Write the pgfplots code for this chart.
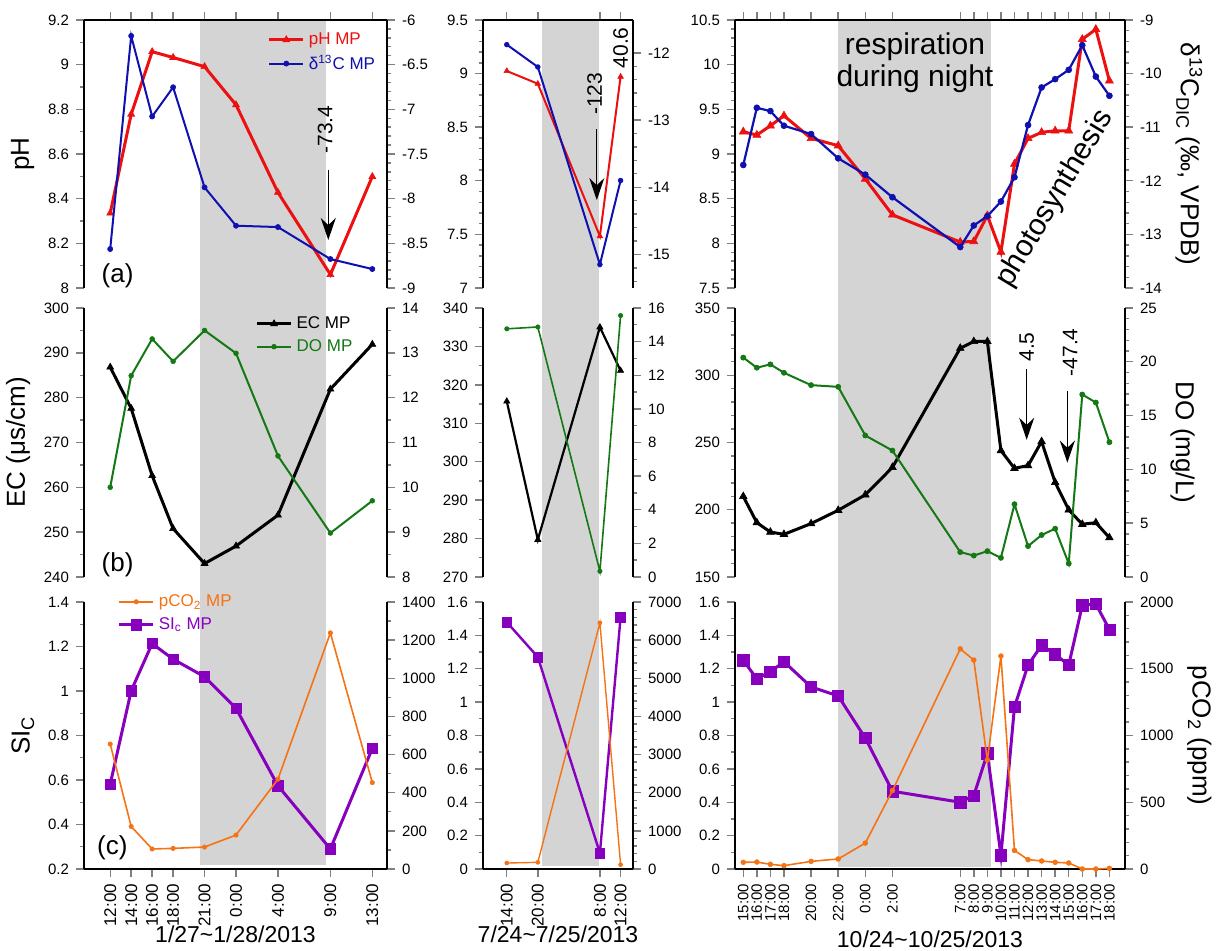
\documentclass[border=0pt]{standalone}
\usepackage{fontspec}
\setmainfont{Liberation Sans}
\usepackage{pgfplots}
\usepackage{pgfplotstable}
\pgfplotsset{compat=1.18}
\usetikzlibrary{arrows.meta,backgrounds}

\definecolor{phred}{RGB}{236,16,16}
\definecolor{dblue}{RGB}{16,16,176}
\definecolor{dogreen}{RGB}{20,120,20}
\definecolor{coorange}{RGB}{245,115,20}
\definecolor{sipurple}{RGB}{135,0,190}
\definecolor{night}{RGB}{212,212,212}

% h = hours after first sample of each campaign
\pgfplotstableread{
h pH dC EC DO SI CO
0 8.335 -8.564 286.8 10.00 0.581 655
2 8.778 -6.178 277.6 12.49 1.001 223
4 9.058 -7.080 262.6 13.31 1.213 105
6 9.032 -6.753 250.8 12.81 1.143 108
9 8.991 -7.874 243.0 13.50 1.064 115
12 8.820 -8.303 246.9 12.99 0.922 178
16 8.428 -8.318 253.8 10.70 0.574 471
21 8.060 -8.676 281.9 8.98 0.290 1238
25 8.499 -8.788 291.9 9.70 0.742 453
}\tabL

\pgfplotstableread{
h pH dC EC DO SI CO
0 9.024 -11.877 315.7 14.76 1.479 156
6 8.905 -12.210 279.7 14.87 1.270 174
18 7.483 -15.150 335.0 0.34 0.095 6453
22 8.971 -13.900 323.7 15.55 1.509 113
}\tabM

\pgfplotstableread{
h pH dC EC DO SI CO
0 9.249 -11.705 209.9 20.39 1.250 50
1 9.212 -10.638 190.4 19.45 1.140 52
2 9.316 -10.700 183.4 19.76 1.182 35
3 9.428 -10.973 181.7 18.98 1.242 25
5 9.175 -11.128 189.7 17.83 1.091 57
7 9.093 -11.581 199.6 17.67 1.037 75
9 8.721 -11.885 211.1 13.15 0.784 194
11 8.319 -12.307 231.5 11.75 0.466 587
16 8.014 -13.237 320.1 2.31 0.400 1649
17 8.021 -12.834 325.1 1.99 0.440 1565
18 8.311 -12.660 325.1 2.40 0.693 816
19 7.902 -12.387 244.0 1.78 0.082 1595
20 8.888 -11.934 230.8 6.76 0.971 139
21 9.175 -10.960 232.8 2.87 1.222 70
22 9.242 -10.259 250.7 3.90 1.341 60
23 9.260 -10.104 220.3 4.49 1.286 50
24 9.260 -9.930 199.9 1.25 1.222 45
25 10.284 -9.471 189.2 16.96 1.580 0
26 10.396 -10.055 190.4 16.21 1.588 0
27 9.819 -10.414 179.2 12.53 1.435 5
}\tabR

\tikzset{
  note/.style={font=\fontsize{10.5}{11}\selectfont},
  arr/.style={line width=0.6pt, -{Stealth[length=11pt,width=7.5pt]}},
}

\pgfplotsset{
  panel/.style={
    scale only axis, clip=false, anchor=south west,
    axis line style={line width=0.9pt},
    tick align=outside,
    major tick length=4pt, minor tick length=2.2pt,
    every tick/.append style={line width=0.7pt},
    tick label style={font=\fontsize{7.5}{8}\selectfont},
    /pgf/number format/assume math mode=true,
    /pgf/number format/1000 sep={},
    scaled y ticks=false,
    ylabel style={font=\fontsize{13}{14}\selectfont},
    xlabel style={font=\fontsize{11.5}{12}\selectfont},
    legend style={draw=none, fill=none, font=\fontsize{8.5}{9}\selectfont, row sep=0pt},
    legend cell align=left,
  },
  colL/.style={width=151.5pt, xmin=-2.5, xmax=26.4, xtick={0,2,4,6,9,12,16,21,25}},
  colM/.style={width=75pt, xmin=-4.6, xmax=24.4, xtick={0,6,18,22}},
  colR/.style={width=195pt, xmin=-0.61, xmax=28.15,
    xtick={0,1,2,3,5,7,9,11,16,17,18,19,20,21,22,23,24,25,26,27}},
  rowA/.style={height=134pt, axis x line*=top, xticklabels={}},
  rowB/.style={height=134.5pt, axis x line=none},
  rowC/.style={height=133.5pt, axis x line*=bottom,
    xticklabel style={rotate=90, anchor=east}},
  yL/.style={axis y line*=left},
  yR/.style={axis y line*=right, axis x line=none},
  phS/.style 2 args={color=phred, line width=#1, mark=triangle*, mark size=#2, mark options={solid, line width=0.3pt}},
  dcS/.style 2 args={color=dblue, line width=#1, mark=*, mark size=#2, mark options={solid, line width=0.3pt}},
  ecS/.style 2 args={color=black, line width=#1, mark=triangle*, mark size=#2, mark options={solid, line width=0.3pt}},
  doS/.style 2 args={color=dogreen, line width=#1, mark=*, mark size=#2, mark options={solid, line width=0.3pt}},
  siS/.style 2 args={color=sipurple, line width=#1, mark=square*, mark size=#2, mark options={solid, line width=0.3pt}},
  coS/.style 2 args={color=coorange, line width=#1, mark=*, mark size=#2, mark options={solid, line width=0.3pt}},
}

\begin{document}
\begin{tikzpicture}
\path[use as bounding box] (0,0) rectangle (611.5pt,475.5pt);

%% ---------- left column: 1/27-1/28/2013 ----------
\begin{axis}[panel, colL, rowA, yL, at={(42pt,331.5pt)},
  ymin=8, ymax=9.2, ytick distance=0.2, minor y tick num=1, ylabel={pH}]
\coordinate (Lt) at (axis cs:8.6,9.2);
\addplot[phS={1.5pt}{2pt}] table[x=h,y=pH]{\tabL};
\node[anchor=west, font=\fontsize{13}{14}\selectfont] at (rel axis cs:0.035,0.045) {(a)};
\draw[arr] (axis cs:20.8,8.53) -- (axis cs:20.8,8.215);
\node[note, rotate=90] at (axis cs:20.5,8.71) {-73.4};
\end{axis}
\begin{axis}[panel, colL, rowA, yR, at={(42pt,331.5pt)},
  ymin=-9, ymax=-6, ytick distance=0.5, minor y tick num=4,
  legend style={at={(0.995,0.985)}, anchor=north east}]
\addlegendimage{phS={1.5pt}{2pt}}\addlegendentry[text=phred]{pH MP}
\addplot[dcS={1pt}{1.3pt}] table[x=h,y=dC]{\tabL};
\addlegendentry[text=dblue]{δ\textsuperscript{13}C MP}
\end{axis}

\begin{axis}[panel, colL, rowB, yL, at={(42pt,187pt)},
  ymin=240, ymax=300, ytick distance=10, minor y tick num=1, ylabel={EC (μs/cm)}]
\addplot[ecS={1.5pt}{2pt}] table[x=h,y=EC]{\tabL};
\node[anchor=west, font=\fontsize{13}{14}\selectfont] at (rel axis cs:0.035,0.045) {(b)};
\end{axis}
\begin{axis}[panel, colL, rowB, yR, at={(42pt,187pt)},
  ymin=8, ymax=14, ytick distance=1, minor y tick num=1,
  legend style={at={(0.92,1.0)}, anchor=north east}]
\addlegendimage{ecS={1.5pt}{2pt}}\addlegendentry{EC MP}
\addplot[doS={1pt}{1.2pt}] table[x=h,y=DO]{\tabL};
\addlegendentry[text=dogreen]{DO MP}
\end{axis}

\begin{axis}[panel, colL, rowC, yL, at={(42pt,41pt)},
  xticklabels={12:00,14:00,16:00,18:00,21:00,0:00,4:00,9:00,13:00},
  xticklabel style={font=\fontsize{8.5}{9}\selectfont},
  xlabel={1/27\textasciitilde 1/28/2013}, xlabel style={yshift=7pt},
  ymin=0.2, ymax=1.4, ytick distance=0.2, minor y tick num=1, ylabel={SI\textsubscript{C}}]
\coordinate (Lb) at (axis cs:20.6,0.22);
\addplot[siS={1.5pt}{2.6pt}] table[x=h,y=SI]{\tabL};
\node[anchor=west, font=\fontsize{13}{14}\selectfont] at (rel axis cs:0.02,0.08) {(c)};
\end{axis}
\begin{axis}[panel, colL, rowC, yR, at={(42pt,41pt)},
  ymin=0, ymax=1400, ytick distance=200, minor y tick num=1,
  legend style={at={(0.09,1.06)}, anchor=north west}]
\addplot[coS={0.8pt}{1.1pt}] table[x=h,y=CO]{\tabL};
\addlegendentry[text=coorange]{pCO\textsubscript{2} MP}
\addlegendimage{siS={1.5pt}{2.6pt}}\addlegendentry[text=sipurple]{SI\textsubscript{c} MP}
\end{axis}

%% ---------- middle column: 7/24-7/25/2013 ----------
\begin{axis}[panel, colM, rowA, yL, at={(241.5pt,331.5pt)},
  ymin=7, ymax=9.5, ytick distance=0.5, minor y tick num=4]
\coordinate (Mt) at (axis cs:6.75,9.5);
\addplot[phS={1pt}{1.6pt}] table[x=h,y=pH]{\tabM};
\draw[arr] (axis cs:17.4,8.48) -- (axis cs:17.4,7.82);
\node[note, rotate=90] at (axis cs:17.0,8.81) {-123};
\node[note, rotate=90] at (axis cs:22.0,9.24) {40.6};
\end{axis}
\begin{axis}[panel, colM, rowA, yR, at={(241.5pt,331.5pt)},
  ymin=-15.5, ymax=-11.51, ytick distance=1, minor y tick num=4]
\addplot[dcS={1pt}{1.2pt}] table[x=h,y=dC]{\tabM};
\end{axis}

\begin{axis}[panel, colM, rowB, yL, at={(241.5pt,187pt)},
  ymin=270, ymax=340, ytick distance=10, minor y tick num=1]
\addplot[ecS={1.1pt}{1.8pt}] table[x=h,y=EC]{\tabM};
\end{axis}
\begin{axis}[panel, colM, rowB, yR, at={(241.5pt,187pt)},
  ymin=0, ymax=16, ytick distance=2, minor y tick num=1]
\addplot[doS={0.8pt}{1.1pt}] table[x=h,y=DO]{\tabM};
\end{axis}

\begin{axis}[panel, colM, rowC, yL, at={(241.5pt,41pt)},
  xticklabels={14:00,20:00,8:00,12:00},
  xticklabel style={font=\fontsize{8.5}{9}\selectfont},
  xlabel={7/24\textasciitilde 7/25/2013}, xlabel style={yshift=7pt},
  ymin=0, ymax=1.6, ytick distance=0.2, minor y tick num=1]
\coordinate (Mb) at (axis cs:17.9,0.02);
\addplot[siS={1.2pt}{2.4pt}] table[x=h,y=SI]{\tabM};
\end{axis}
\begin{axis}[panel, colM, rowC, yR, at={(241.5pt,41pt)},
  ymin=0, ymax=7000, ytick distance=1000, minor y tick num=4]
\addplot[coS={0.7pt}{1pt}] table[x=h,y=CO]{\tabM};
\end{axis}

%% ---------- right column: 10/24-10/25/2013 ----------
\begin{axis}[panel, colR, rowA, yL, at={(367.5pt,331.5pt)},
  ymin=7.5, ymax=10.5, ytick distance=0.5, minor y tick num=4]
\coordinate (Rt) at (axis cs:7.0,10.5);
\addplot[phS={1.5pt}{2.3pt}] table[x=h,y=pH]{\tabR};
\node[font=\fontsize{15}{16}\selectfont, align=center] at (axis cs:12.66,10.02) {respiration\\during night};
\node[font=\fontsize{15}{16}\selectfont, rotate=59] at (axis cs:23.0,8.5) {photosynthesis};
\end{axis}
\begin{axis}[panel, colR, rowA, yR, at={(367.5pt,331.5pt)},
  ymin=-14, ymax=-9, ytick distance=1, minor y tick num=4,
  ylabel={δ\textsuperscript{13}C\textsubscript{DIC} (‰, VPDB)}, ylabel style={rotate=180}]
\addplot[dcS={1.1pt}{1.5pt}] table[x=h,y=dC]{\tabR};
\end{axis}

\begin{axis}[panel, colR, rowB, yL, at={(367.5pt,187pt)},
  ymin=150, ymax=350, ytick distance=50, minor y tick num=4]
\addplot[ecS={1.5pt}{2.2pt}] table[x=h,y=EC]{\tabR};
\draw[arr] (axis cs:20.9,305) -- (axis cs:20.9,252);
\node[note, rotate=90] at (axis cs:20.9,321) {4.5};
\draw[arr] (axis cs:23.9,288) -- (axis cs:23.9,235);
\node[note, rotate=90] at (axis cs:24.1,317) {-47.4};
\end{axis}
\begin{axis}[panel, colR, rowB, yR, at={(367.5pt,187pt)},
  ymin=0, ymax=25, ytick distance=5, minor y tick num=4,
  ylabel={DO (mg/L)}, ylabel style={rotate=180}]
\addplot[doS={1pt}{1.3pt}] table[x=h,y=DO]{\tabR};
\end{axis}

\begin{axis}[panel, colR, rowC, yL, at={(367.5pt,41pt)},
  xticklabels={15:00,16:00,17:00,18:00,20:00,22:00,0:00,2:00,7:00,8:00,9:00,10:00,11:00,12:00,13:00,14:00,15:00,16:00,17:00,18:00},
  xticklabel style={font=\fontsize{7.5}{8}\selectfont},
  xlabel={10/24\textasciitilde 10/25/2013}, xlabel style={yshift=2pt},
  ymin=0, ymax=1.6, ytick distance=0.2, minor y tick num=1]
\coordinate (Rb) at (axis cs:18.3,0.01);
\addplot[siS={1.5pt}{2.8pt}] table[x=h,y=SI]{\tabR};
\end{axis}
\begin{axis}[panel, colR, rowC, yR, at={(367.5pt,41pt)},
  ymin=0, ymax=2000, ytick distance=500, minor y tick num=4,
  ylabel={pCO\textsubscript{2} (ppm)}, ylabel style={rotate=180}]
\addplot[coS={0.8pt}{1.2pt}] table[x=h,y=CO]{\tabR};
\end{axis}

%% night shading behind all panels
\begin{scope}[on background layer]
\fill[night] (Lt) rectangle (Lb);
\fill[night] (Mt) rectangle (Mb);
\fill[night] (Rt) rectangle (Rb);
\end{scope}
\end{tikzpicture}
\end{document}
